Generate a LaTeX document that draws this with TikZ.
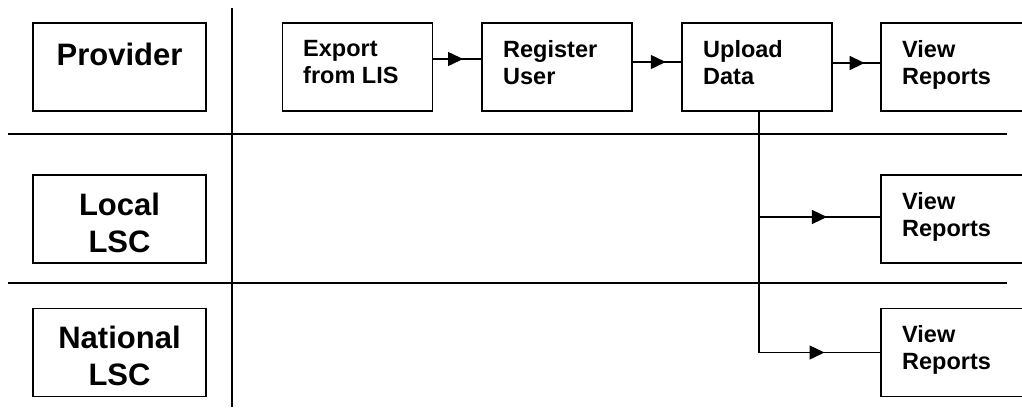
\documentclass[tikz,border=0pt]{standalone}
\usepackage{fontspec}
\setmainfont{Liberation Sans}
\usetikzlibrary{arrows.meta,decorations.markings,calc}
\begin{document}
\begin{tikzpicture}[x=1pt,y=-1pt,
  box/.style={draw,line width=1.4pt,inner sep=0pt},
  lanebox/.style={box,minimum width=173pt,minimum height=88pt},
  procbox/.style={box,minimum width=150pt,minimum height=88pt},
  lanetext/.style={inner sep=0pt,anchor=north,align=center,font=\fontsize{31}{37}\selectfont\bfseries},
  proctext/.style={inner sep=0pt,anchor=north west,align=left,font=\fontsize{23.5}{27}\selectfont\bfseries},
  lane/.style={line width=1.4pt},
  flow/.style={line width=1.4pt, postaction={decorate},
    decoration={markings, mark=at position #1 with {\arrow{Triangle[length=15pt,width=14pt]}}}}]
\useasboundingbox (0,0) rectangle (1022,407);
\clip (0,0) rectangle (1022,407);

% swimlane separators
\draw[lane] (232,8) -- (232,407);
\draw[lane] (8,134) -- (1007,134);
\draw[lane] (8,283) -- (1007,283);

% lane headers
\node[lanebox] (provider) at (119.5,67) {};
\node[lanetext] (providerlabel) at (119.5,43) {Provider};
\node[lanebox] (local) at (119.5,219) {};
\node[lanetext] (locallabel) at (119.5,193) {Local\\LSC};
\node[lanebox] (national) at (119.5,352.5) {};
\node[lanetext] (nationallabel) at (119.5,326) {National\\LSC};

% process boxes
\node[procbox] (export) at (357.5,67) {};
\node[proctext] (exportlabel) at (303,40) {Export\\from LIS};
\node[procbox] (register) at (557,67) {};
\node[proctext] (registerlabel) at (503,40) {Register\\User};
\node[procbox] (upload) at (757,67) {};
\node[proctext] (uploadlabel) at (703,40) {Upload\\Data};
\node[procbox] (vr1) at (956,67) {};
\node[proctext] (vr1label) at (902,40) {View\\Reports};
\node[procbox] (vr2) at (956,219) {};
\node[proctext] (vr2label) at (902,192) {View\\Reports};
\node[procbox] (vr3) at (956,352.5) {};
\node[proctext] (vr3label) at (902,325) {View\\Reports};

% flows
\draw[flow=0.62] ([yshift=8pt]export.east) -- ([yshift=8pt]register.west);
\draw[flow=0.68] ([yshift=5pt]register.east) -- ([yshift=5pt]upload.west);
\draw[flow=0.67] ([yshift=4pt]upload.east) -- ([yshift=4pt]vr1.west);
\draw[lane] ([xshift=2pt]upload.south) -- ([xshift=2pt]upload.south |- vr3.west);
\draw[flow=0.56] ([xshift=2pt,yshift=2pt]upload.south |- vr2.west) -- ([yshift=2pt]vr2.west);
\draw[flow=0.54] ([xshift=2pt]upload.south |- vr3.west) -- (vr3.west);
\end{tikzpicture}
\end{document}
